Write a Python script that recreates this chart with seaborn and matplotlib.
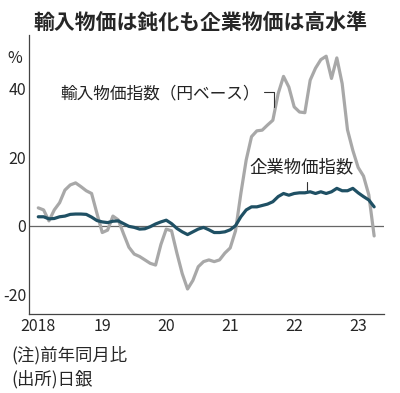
import matplotlib
matplotlib.use("Agg")
import matplotlib.pyplot as plt
import seaborn as sns
import pandas as pd

# monthly data, Jan 2018 - Apr 2023 (YoY %)
months = pd.date_range("2018-01-01", "2023-04-01", freq="MS")
import_prices = [5.2, 4.6, 1.4, 4.6, 6.7, 10.4, 11.9, 12.5, 11.4, 10.2, 9.4, 3.6,
                 -2.0, -1.3, 2.8, 1.7, -2.4, -6.3, -8.3, -9.0, -10.0, -11.0, -11.5, -5.5,
                 -1.0, -1.5, -8.0, -14.0, -18.5, -16.0, -12.0, -10.5, -10.0, -10.5, -10.0, -8.0,
                 -6.5, -1.5, 9.4, 19.2, 26.0, 27.7, 27.9, 29.4, 30.8, 38.6, 43.6, 40.5,
                 34.7, 33.2, 33.0, 42.5, 46.0, 48.5, 49.5, 43.0, 49.0, 41.5, 28.0, 22.0,
                 17.0, 14.5, 9.0, -3.0]
corporate_prices = [2.6, 2.6, 2.0, 2.1, 2.6, 2.8, 3.3, 3.4, 3.4, 3.3, 2.5, 1.5,
                    1.1, 0.9, 1.3, 1.4, 0.6, -0.2, -0.5, -1.0, -0.9, -0.3, 0.5, 1.1,
                    1.6, 0.6, -0.8, -1.8, -2.6, -1.8, -1.0, -0.5, -1.2, -2.0, -2.0, -1.8,
                    -1.2, 0.0, 2.6, 4.6, 5.5, 5.5, 5.9, 6.3, 7.0, 8.5, 9.4, 8.9,
                    9.4, 9.6, 9.6, 9.9, 9.4, 9.9, 9.4, 9.9, 10.9, 10.2, 10.2, 10.9,
                    9.6, 8.5, 7.5, 5.5]
year_ticks = [2018, 2019, 2020, 2021, 2022, 2023]
year_labels = ["2018", "19", "20", "21", "22", "23"]
y_ticks = [-20, 0, 20, 40]

sns.set_style("white")
plt.rcParams["font.family"] = ["Noto Sans CJK JP", "DejaVu Sans"]

# fractional year as x
t = months.year + (months.month - 1) / 12
df = pd.DataFrame({"t": t, "import": import_prices, "corp": corporate_prices})

fig = plt.figure(figsize=(4.0, 3.93), dpi=100)
ax = fig.add_axes([0.0725, 0.201, 0.8875, 0.71])

ax.axhline(0, color="#666666", lw=0.9, zorder=1)
sns.lineplot(data=df, x="t", y="import", color="#a8a8a8", lw=2.3, ax=ax, zorder=2)
sns.lineplot(data=df, x="t", y="corp", color="#1f5064", lw=2.3, ax=ax, zorder=3)

ax.set_xlim(2017.855, 2023.404)
ax.set_ylim(-25.8, 55.7)
ax.set_xticks(year_ticks)
ax.set_xticklabels(year_labels, fontsize=11.5)
ax.set_yticks(y_ticks)
ax.set_yticklabels([str(v) for v in y_ticks], fontsize=11.5)
ax.tick_params(axis="both", direction="in", length=3.5, width=0.8, color="#444444")
ax.tick_params(axis="x", pad=3)
ax.tick_params(axis="y", pad=2)
ax.set_xlabel("")
ax.set_ylabel("")
for side in ["top", "right"]:
    ax.spines[side].set_visible(False)
for side in ["left", "bottom"]:
    ax.spines[side].set_color("#444444")
    ax.spines[side].set_linewidth(0.9)

# labels with leader lines
ax.text(2018.34, 38.45, "輸入物価指数（円ベース）", fontsize=12, color="#222222",
        va="center", ha="left")
ax.plot([2021.53, 2021.68, 2021.68], [38.9, 38.9, 34.65], color="#333333", lw=0.8)
ax.text(2022.12, 17.0, "企業物価指数", fontsize=12.5, color="#222222",
        va="center", ha="center")
ax.plot([2022.206, 2022.206], [12.85, 9.93], color="#333333", lw=0.8)

fig.text(0.0375, 0.85, "%", fontsize=11.5, va="center", ha="center")
fig.text(0.5, 0.943, "輸入物価は鈍化も企業物価は高水準", fontsize=15, fontweight="bold",
         va="center", ha="center")
fig.text(0.028, 0.0967, "(注)前年同月比", fontsize=12.5, va="center", ha="left")
fig.text(0.028, 0.0356, "(出所)日銀", fontsize=12.5, va="center", ha="left")

fig.savefig("out.png", dpi=100)
